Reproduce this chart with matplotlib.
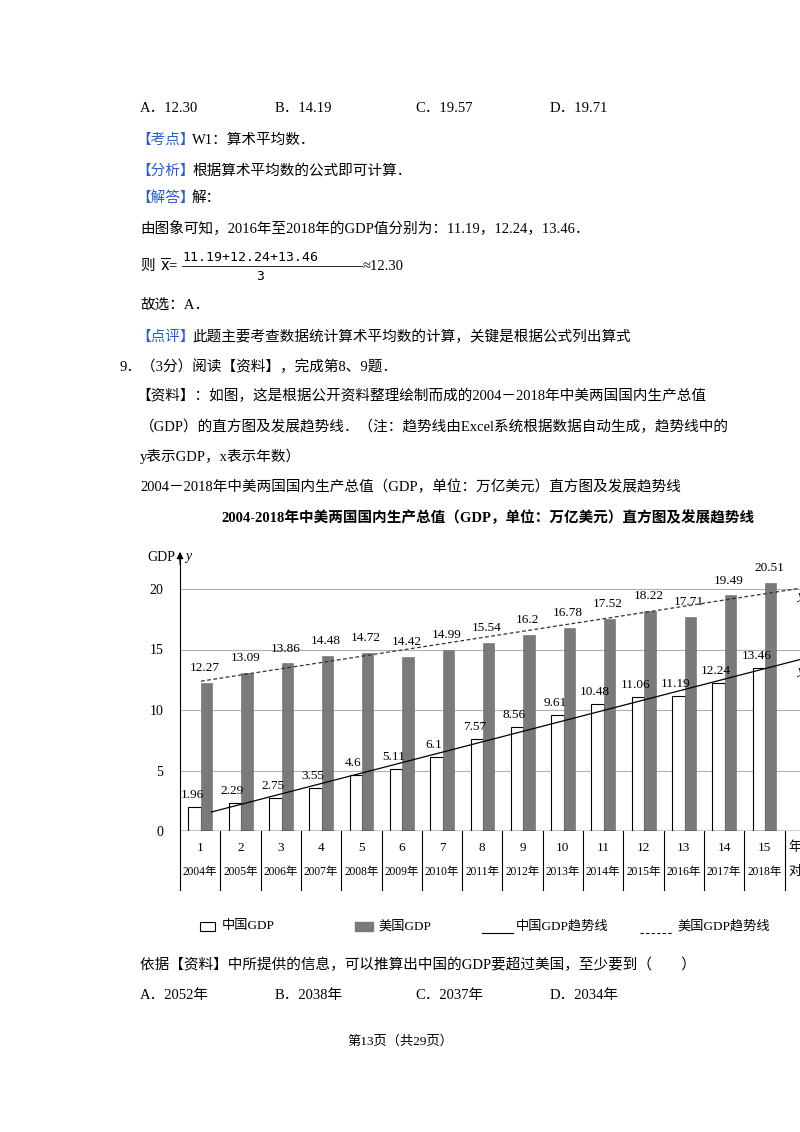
import numpy as np
import matplotlib
matplotlib.use("Agg")
import matplotlib.pyplot as plt
from matplotlib.patches import Rectangle

plt.rcParams['font.family'] = ['Liberation Serif', 'Noto Sans CJK SC', 'DejaVu Sans']

idx = list(range(1, 16))
years = [f"{y}年" for y in range(2004, 2019)]
china = [1.96, 2.29, 2.75, 3.55, 4.6, 5.11, 6.1, 7.57, 8.56, 9.61, 10.48, 11.06, 11.19, 12.24, 13.46]
usa = [12.27, 13.09, 13.86, 14.48, 14.72, 14.42, 14.99, 15.54, 16.2, 16.78, 17.52, 18.22, 17.71, 19.49, 20.51]
china_lbl = ["1.96", "2.29", "2.75", "3.55", "4.6", "5.11", "6.1", "7.57", "8.56", "9.61", "10.48", "11.06", "11.19", "12.24", "13.46"]
usa_lbl = ["12.27", "13.09", "13.86", "14.48", "14.72", "14.42", "14.99", "15.54", "16.2", "16.78", "17.52", "18.22", "17.71", "19.49", "20.51"]
yticks = [0, 5, 10, 15, 20]

W, H = 800, 1132
fig = plt.figure(figsize=(8, 11.32), dpi=100)
BLUE = '#2a5bd7'
FS = 10.5

def T(x, y, s, **kw):
    kw.setdefault('fontsize', FS)
    kw.setdefault('va', 'center')
    fig.text(x / W, 1 - y / H, s, **kw)

# ---------- page text ----------
for x, s in [(140, "A．12.30"), (275, "B．14.19"), (415, "C．19.57"), (550, "D．19.71")]:
    T(x, 108, s)
T(136, 140, "【考点】", color=BLUE); T(192, 140, "W1：算术平均数．")
T(136, 171, "【分析】", color=BLUE); T(192, 171, "根据算术平均数的公式即可计算．")
T(136, 198, "【解答】", color=BLUE); T(192, 198, "解：")
T(140, 228, "由图象可知，2016年至2018年的GDP值分别为：11.19，12.24，13.46．")
T(140, 266, "则")
T(160, 266, r"$\overline{\mathrm{x}}$=")
T(182, 257, "11.19+12.24+13.46", fontsize=9.5, family=['DejaVu Sans Mono'])
fig.add_artist(plt.Line2D([182 / W, 362 / W], [1 - 266 / H, 1 - 266 / H], color='k', lw=0.6))
T(256, 277, "3", fontsize=9.5, family=['DejaVu Sans Mono'])
T(363, 266, "≈12.30")
T(140, 305, "故选：A．")
T(136, 337, "【点评】", color=BLUE); T(192, 337, "此题主要考查数据统计算术平均数的计算，关键是根据公式列出算式")
T(120, 367, "9．（3分）阅读【资料】，完成第8、9题．")
T(136, 396, "【资料】：如图，这是根据公开资料整理绘制而成的2004－2018年中美两国国内生产总值")
T(140, 427, "（GDP）的直方图及发展趋势线．（注：趋势线由Excel系统根据数据自动生成，趋势线中的")
T(140, 456, "y表示GDP，x表示年数）")
T(140, 487, "2004－2018年中美两国国内生产总值（GDP，单位：万亿美元）直方图及发展趋势线")
T(488, 518, "2004-2018年中美两国国内生产总值（GDP，单位：万亿美元）直方图及发展趋势线",
  ha='center', fontsize=10.5, fontweight='bold')
T(140, 965, "依据【资料】中所提供的信息，可以推算出中国的GDP要超过美国，至少要到（　　）")
for x, s in [(140, "A．2052年"), (275, "B．2038年"), (415, "C．2037年"), (550, "D．2034年")]:
    T(x, 995, s)
T(400, 1041, "第13页（共29页）", ha='center', fontsize=9.5)

# ---------- chart ----------
gw = 40.3
ppu = 12.1
x0px, y0px = 180, 831
xmin, xmax = 0.5, 16.5
ymax = 23
ax = fig.add_axes([x0px / W, 1 - y0px / H, (xmax - xmin) * gw / W, ymax * ppu / H])
ax.set_xlim(xmin, xmax)
ax.set_ylim(0, ymax)
for s in ['top', 'right', 'bottom']:
    ax.spines[s].set_visible(False)
ax.spines['left'].set_linewidth(0.8)
ax.set_xticks([])
ax.set_yticks(yticks)
ax.set_yticklabels([str(v) for v in yticks], fontsize=10)
ax.tick_params(axis='y', length=0, pad=12)
for v in yticks[1:]:
    ax.axhline(v, color='#b0b0b0', lw=0.8, zorder=0)
ax.axhline(0, color='k', lw=1, zorder=3)

xi = np.array(idx, dtype=float)
ax.bar(xi - 0.135, china, width=0.31, color='white', edgecolor='black', lw=0.8, zorder=2)
ax.bar(xi + 0.16, usa, width=0.28, color='#7a7a7a', edgecolor='#7a7a7a', lw=0.5, zorder=2)
for x, v, s in zip(xi, china, china_lbl):
    ax.text(x - 0.2, v + 1.0, s, ha='center', va='center', fontsize=9.5)
for x, v, s in zip(xi, usa, usa_lbl):
    ax.text(x + 0.12, v + 1.2, s, ha='center', va='center', fontsize=9.5)

pc = np.polyfit(xi, china, 1)
pu = np.polyfit(xi, usa, 1)
xc = np.array([1.28, 16.5])
xu = np.array([1.02, 16.5])
ax.plot(xc, np.polyval(pc, xc), color='k', lw=0.9, zorder=4)
ax.plot(xu, np.polyval(pu, xu), color='#333333', lw=0.9, ls=(0, (3, 2)), zorder=4)
ax.text(15.82, np.polyval(pu, 15.9) - 0.9, "y", fontsize=9.5, style='italic')
ax.text(15.82, np.polyval(pc, 15.9) - 1.2, "y", fontsize=9.5, style='italic')

ax.annotate('', xy=(0.5, 23.3), xytext=(0.5, 21.8),
            arrowprops=dict(arrowstyle='-|>', color='k', lw=0.8), annotation_clip=False)
ax.text(0.38, 22.6, "GDP", ha='right', va='center', fontsize=10)
ax.text(0.62, 22.7, "y", ha='left', va='center', fontsize=10, style='italic')

for b in np.arange(0.5, 16.6, 1.0):
    ax.plot([b, b], [0, -4.9], color='k', lw=0.8, clip_on=False)
for x, s in zip(xi, years):
    ax.text(x, -1.4, str(int(x)), ha='center', va='center', fontsize=9.5, clip_on=False)
    ax.text(x, -3.4, s, ha='center', va='center', fontsize=8.3, clip_on=False)
ax.text(15.6, -1.4, "年", ha='left', va='center', fontsize=9.5, clip_on=False)
ax.text(15.6, -3.4, "对", ha='left', va='center', fontsize=9.5, clip_on=False)

# legend
fig.add_artist(Rectangle((200 / W, 1 - 931 / H), 15 / W, 9 / H, facecolor='white', edgecolor='k', lw=0.8))
T(222, 926, "中国GDP", fontsize=9.5)
fig.add_artist(Rectangle((355 / W, 1 - 931 / H), 18 / W, 9 / H, facecolor='#7a7a7a', edgecolor='#7a7a7a'))
T(378, 926, "美国GDP", fontsize=9.5)
fig.add_artist(plt.Line2D([482 / W, 513 / W], [1 - 933 / H] * 2, color='k', lw=0.8))
T(516, 926, "中国GDP趋势线", fontsize=9.5)
fig.add_artist(plt.Line2D([640 / W, 673 / W], [1 - 933 / H] * 2, color='k', lw=0.8, ls=(0, (3, 2))))
T(677, 926, "美国GDP趋势线", fontsize=9.5)

fig.savefig("out.png", dpi=100)
